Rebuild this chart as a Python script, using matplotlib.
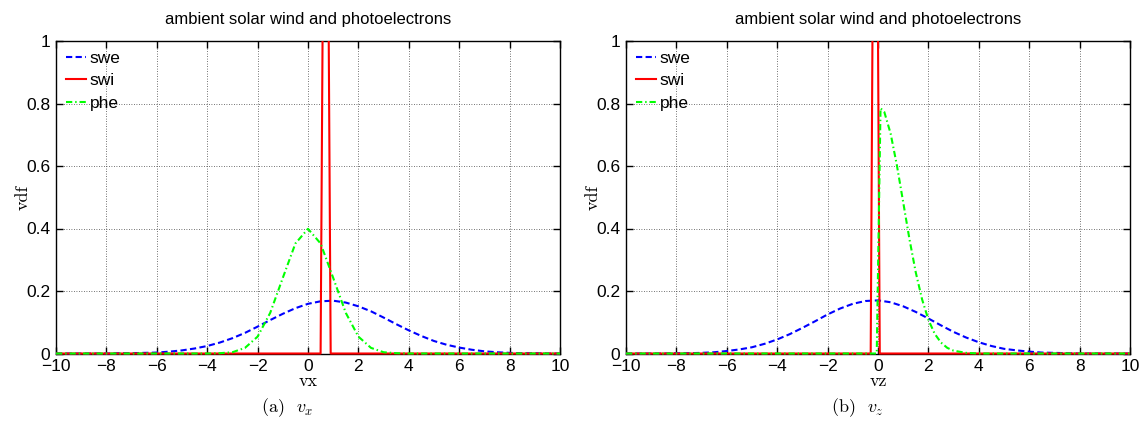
import matplotlib
matplotlib.use('Agg')
import matplotlib.pyplot as plt
from matplotlib.patches import Rectangle

# velocity samples
v_grid = [-10, -9.5, -9, -8.5, -8, -7.5, -7, -6.5, -6, -5.5, -5, -4.5, -4, -3.5, -3,
          -2.5, -2, -1.5, -1, -0.5, 0, 0.5, 1, 1.5, 2, 2.5, 3, 3.5, 4, 4.5, 5,
          5.5, 6, 6.5, 7, 7.5, 8, 8.5, 9, 9.5, 10]

# panel (a): vx
swe_vx = [0.000, 0.000, 0.000, 0.000, 0.000, 0.001, 0.001, 0.002, 0.003, 0.006, 0.010,
          0.016, 0.024, 0.035, 0.049, 0.066, 0.086, 0.107, 0.127, 0.145, 0.159, 0.167,
          0.169, 0.163, 0.151, 0.135, 0.115, 0.094, 0.074, 0.056, 0.040, 0.028, 0.019,
          0.012, 0.007, 0.004, 0.002, 0.001, 0.001, 0.000, 0.000]
swi_vx_x = [-10, 0.50, 0.70, 0.90, 10]
swi_vx = [0, 0, 2.6, 0, 0]
phe_vx_x = [-10, -4, -3.5, -3, -2.5, -2, -1.5, -1, -0.5, 0, 0.5, 1, 1.5, 2, 2.5, 3, 3.5, 4, 10]
phe_vx = [0, 0, 0.001, 0.004, 0.018, 0.054, 0.130, 0.242, 0.352, 0.399, 0.352, 0.242,
          0.130, 0.054, 0.018, 0.004, 0.001, 0, 0]

# panel (b): vz
swe_vz = [0.000, 0.000, 0.000, 0.000, 0.001, 0.001, 0.002, 0.004, 0.008, 0.013, 0.020,
          0.031, 0.045, 0.062, 0.082, 0.103, 0.125, 0.144, 0.159, 0.168, 0.170, 0.164,
          0.151, 0.133, 0.112, 0.090, 0.069, 0.051, 0.036, 0.024, 0.015, 0.010, 0.006,
          0.003, 0.002, 0.001, 0.000, 0.000, 0.000, 0.000, 0.000]
swi_vz_x = [-10, -0.29, -0.11, 0.07, 10]
swi_vz = [0, 0, 2.6, 0, 0]
phe_vz_x = [-10, -0.05, 0.1, 0.25, 0.5, 0.75, 1.0, 1.25, 1.5, 1.75, 2.0, 2.25, 2.5,
            2.75, 3.0, 3.5, 4.0, 10]
phe_vz = [0, 0, 0.785, 0.773, 0.704, 0.602, 0.484, 0.365, 0.259, 0.173, 0.108, 0.063,
          0.035, 0.018, 0.009, 0.002, 0, 0]

xticks = [-10, -8, -6, -4, -2, 0, 2, 4, 6, 8, 10]
yticks = [0, 0.2, 0.4, 0.6, 0.8, 1]
ytick_labels = ['0', '0.2', '0.4', '0.6', '0.8', '1']
series_names = ['swe', 'swi', 'phe']

plt.rcParams['font.family'] = ['Liberation Sans', 'DejaVu Sans']
plt.rcParams['mathtext.fontset'] = 'cm'

fig = plt.figure(figsize=(11.43, 4.25), dpi=100)

W, H = 1143.0, 425.0
panels = [
    (56, 'vx', '(a)  $v_x$', swe_vx, swi_vx_x, swi_vx, phe_vx_x, phe_vx),
    (626, 'vz', '(b)  $v_z$', swe_vz, swi_vz_x, swi_vz, phe_vz_x, phe_vz),
]

for left, xlab, caption, swe, swi_x, swi, phe_x, phe in panels:
    ax = fig.add_axes([left / W, (H - 353.5) / H, 504 / W, 312.5 / H])
    lines = []
    lines += ax.plot(v_grid, swe, color='#0000ff', lw=1.5, dashes=(3.0, 1.6), zorder=3, label=series_names[0])
    lines += ax.plot(swi_x, swi, color='#ff0000', lw=1.5, zorder=3, label=series_names[1])
    lines += ax.plot(phe_x, phe, color='#00ff00', lw=1.5, dashes=(3.0, 1.4, 0.7, 1.4), zorder=3, label=series_names[2])
    # let the zero baseline show at full width, like matlab
    clip = Rectangle((0, -0.02), 1, 1.02, transform=ax.transAxes, visible=False)
    ax.add_patch(clip)
    for ln in lines:
        ln.set_clip_path(clip)

    ax.set_xlim(-10, 10)
    ax.set_ylim(0, 1)
    ax.set_xticks(xticks)
    ax.set_yticks(yticks)
    ax.set_yticklabels(ytick_labels)
    ax.tick_params(direction='in', top=True, right=True, length=5, width=1,
                   labelsize=12.5, pad=4)
    ax.grid(True, color='#444444', linestyle=(0, (1, 2)), linewidth=0.6)
    for sp in ax.spines.values():
        sp.set_linewidth(1.0)

    ax.set_title('ambient solar wind and photoelectrons', fontsize=12, pad=12)
    ax.set_xlabel(xlab, fontfamily='cmr10', fontsize=13)
    ax.xaxis.set_label_coords(0.5, -0.088)
    ax.xaxis.label.set_va('center')
    ax.set_ylabel('vdf', fontfamily='cmr10', fontsize=13)
    ax.yaxis.set_label_coords(-0.065, 0.5)
    ax.yaxis.label.set_va('center')

    ax.legend(loc='upper left', frameon=False, fontsize=12.5, handlelength=1.2,
              handletextpad=0.2, labelspacing=0.42, borderaxespad=0.45, borderpad=0.1)

    fig.text((left + 231) / W, 1 - 408 / H, caption, fontfamily='cmr10', fontsize=13,
             ha='center', va='center')

fig.savefig('out.png', dpi=100)
